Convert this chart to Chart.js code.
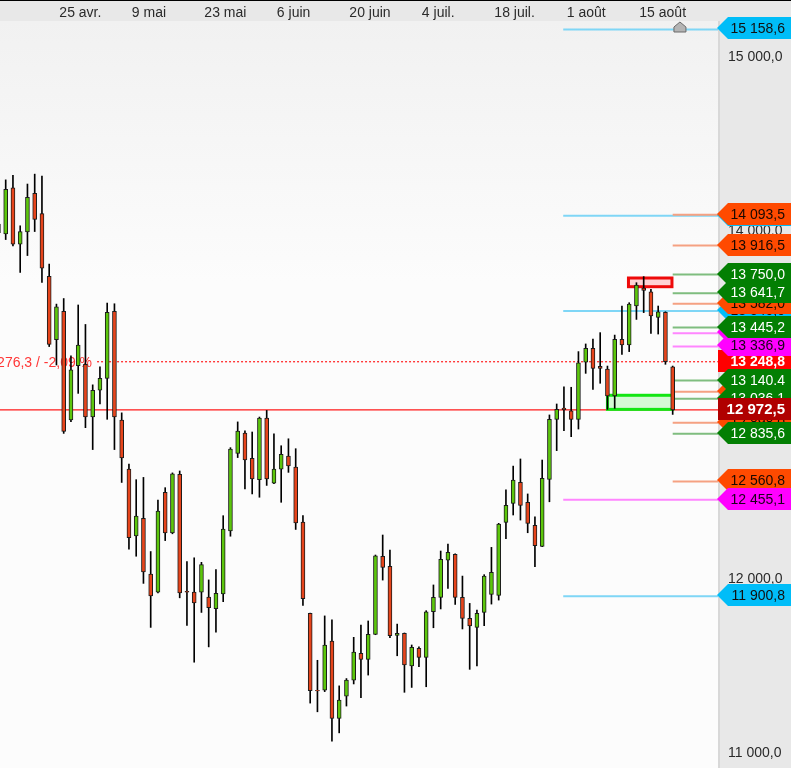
<!DOCTYPE html>
<html lang="fr">
<head>
<meta charset="utf-8">
<title>Chandeliers</title>
<script src="https://cdn.jsdelivr.net/npm/chart.js@4.4.1/dist/chart.umd.min.js"></script>
<style>
  html, body { margin: 0; padding: 0; background: #fbfbfb; }
  #wrap { width: 791px; height: 768px; }
</style>
</head>
<body>
<div id="wrap"><canvas id="chart" width="791" height="768"></canvas></div>
<script>
// séances (index 0 = bougie coupée à gauche)
const opens  = [13990,13984,14248,13925,13995,14217,14100,13740,13375,13538,12914,13226,13234,12931,13085,13153,13538,12914,12632,12248,
                12349,12028,11925,12498,12265,12602,11929,11925,11925,11896,11830,11914,12276,12722,12839,12694,12571,12925,12551,12632,
                12707,12643,12327,11803,11360,11362,11643,11199,11327,11419,11573,11538,11682,12130,12073,11676,11688,11500,11602,11550,
                11812,11895,12109,12142,11895,11774,11722,11808,11912,11906,12326,12435,12556,12441,12308,12188,12573,12918,12983,12967,
                12918,13247,13326,13222,13207,13052,13377,13345,13569,13672,13651,13504,13533,13220];
const highs  = [14060,14294,14320,14030,14270,14327,14316,13810,13580,13612,13283,13575,13463,13116,13219,13586,13582,12955,12661,12571,
                12584,12158,12454,12525,12610,12621,12100,12122,12096,11995,12054,12364,12755,12903,12852,12845,12931,12969,12835,12766,
                12806,12749,12364,11804,11533,11788,11766,11386,11428,11665,11736,11759,12138,12253,12167,11741,11690,11621,11611,11818,
                11966,12161,12201,12145,12017,11860,11822,12025,12182,12320,12512,12649,12690,12489,12358,12684,12943,13006,13105,13102,
                13307,13351,13379,13416,13224,13402,13569,13588,13703,13738,13665,13569,13536,13224];
const lows   = [13960,13951,13914,13762,13859,13997,13705,13336,13230,12837,12905,13067,12870,12744,13006,12918,12744,12555,12171,12131,
                11975,11722,11920,12221,12260,11892,11733,11522,11808,11610,11694,11870,12246,12698,12518,12489,12470,12538,12548,12441,
                12613,12285,11848,11287,11237,11353,11068,11116,11270,11397,11318,11448,11680,11994,11663,11559,11349,11377,11496,11381,
                11720,11828,11946,11854,11713,11481,11500,11732,11856,11879,12232,12368,12339,12266,12071,12186,12444,12738,12853,12818,
                12862,13182,13090,13125,12975,12981,13291,13307,13492,13531,13412,13408,13234,12946];
const closes = [14040,14239,13925,13997,14193,14067,13786,13349,13564,12848,13202,13344,12931,13085,13153,13533,12931,12696,12237,12362,
                12041,11903,12391,12265,12604,11920,11924,11863,12083,11835,11918,12287,12747,12850,12685,12575,12925,12575,12632,12716,
                12650,12322,11887,11358,11357,11621,11199,11305,11419,11580,11538,11682,12134,12067,11674,11688,11506,11607,11550,11812,
                11895,12113,12153,11895,11774,11730,11803,12017,12038,12316,12423,12569,12423,12320,12192,12579,12918,12975,12973,12918,
                13243,13326,13211,13211,13052,13377,13345,13580,13690,13659,13512,13536,13248.8,12972.5];

// axe des dates (position en séances) et axe des prix
const dateTickPos = [8.4, 18.4, 28.4, 38.4, 48.4, 58.4, 68.4, 78.4, 88.4];
const dateLabels  = ['25 avr.', '9 mai', '23 mai', '6 juin', '20 juin', '4 juil.', '18 juil.', '1 août', '15 août'];
const priceTicks  = [11000, 12000, 13000, 14000, 15000];

// niveaux tracés à droite
const cyanLevels    = [15158.6, 14088.0, 13540.0, 11900.8];
const orangeLevels  = [14093.5, 13916.5, 13582.0, 13076.0, 12898.0, 12560.8];
const magentaLevels = [13412.0, 13336.9, 12455.1];
const greenLevels   = [13036.1, 13750.0, 13641.7, 13445.2, 13140.4, 12835.6];
const greenTexts    = ['13 036,1', '13 750,0', '13 641,7', '13 445,2', '13 140.4', '12 835,6'];
const prevClose = 13248.8;
const lastClose = 12972.5;

// zones
const redZone   = { from: 86.9, to: 92.9, low: 13680, high: 13730 };
const greenZone = { from: 84,   to: 93,   low: 12975, high: 13056 };

const FONT = '"Liberation Sans", Arial, sans-serif';
Chart.defaults.font.family = FONT;

function fmt(v) {
  const parts = v.toFixed(1).split('.');
  return parts[0].replace(/\B(?=(\d{3})+(?!\d))/g, ' ') + ',' + parts[1];
}

const idx = opens.map((_, i) => i);
const wickData = idx.map(i => ({ x: i, y: [lows[i], highs[i]] }));
const bodyData = idx.map(i => ({ x: i, y: [opens[i], closes[i]] }));
const bodyColors = idx.map(i => closes[i] >= opens[i] ? '#5cc60c' : '#e6441b');

function drawTag(ctx, y, text, bg, fg, font, pointed) {
  const left = 718, right = 791, h = 22, cy = Math.round(y) - 1;
  ctx.beginPath();
  if (pointed) {
    ctx.moveTo(right, cy - h / 2);
    ctx.lineTo(left + 10, cy - h / 2);
    ctx.lineTo(left - 1, cy);
    ctx.lineTo(left + 10, cy + h / 2);
    ctx.lineTo(right, cy + h / 2);
  } else {
    ctx.rect(left, cy - h / 2, right - left, h);
  }
  ctx.closePath();
  ctx.fillStyle = bg;
  ctx.fill();
  ctx.fillStyle = fg;
  ctx.font = font;
  ctx.textAlign = 'right';
  ctx.textBaseline = 'middle';
  ctx.fillText(text, 785, cy + 1);
}

const decor = {
  id: 'decor',
  beforeDraw(chart) {
    const ctx = chart.ctx, a = chart.chartArea;
    ctx.save();
    const g = ctx.createLinearGradient(0, a.top, 0, a.top + 260);
    g.addColorStop(0, '#f1f1f1');
    g.addColorStop(1, '#fcfcfc');
    ctx.fillStyle = g;
    ctx.fillRect(0, a.top, a.right, chart.height - a.top);
    ctx.fillStyle = '#e8e8e8';
    ctx.fillRect(0, 0, chart.width, a.top);
    ctx.fillRect(a.right, 0, chart.width - a.right, chart.height);
    ctx.fillStyle = '#d8d8d8';
    ctx.fillRect(a.right, a.top, 2, chart.height - a.top);
    ctx.fillStyle = '#000';
    ctx.fillRect(0, 0, chart.width, 1);
    ctx.restore();
  },
  beforeDatasetsDraw(chart) {
    const ctx = chart.ctx, a = chart.chartArea;
    const xs = chart.scales.x, ys = chart.scales.y;
    ctx.save();
    ctx.beginPath();
    ctx.rect(a.left, a.top, a.right - a.left, a.bottom - a.top);
    ctx.clip();

    function hline(v, fromIdx, color, w, dash) {
      const y = ys.getPixelForValue(v);
      ctx.beginPath();
      ctx.setLineDash(dash || []);
      ctx.strokeStyle = color;
      ctx.lineWidth = w;
      ctx.moveTo(fromIdx === null ? a.left : xs.getPixelForValue(fromIdx), y);
      ctx.lineTo(a.right, y);
      ctx.stroke();
    }
    cyanLevels.forEach(v => hline(v, 77.9, '#7fd6f6', 2));
    orangeLevels.forEach(v => hline(v, 93, '#f5a182', 2));
    magentaLevels.forEach(v => hline(v, v < 12500 ? 77.9 : 93, '#ff86ff', 2));
    greenLevels.forEach(v => hline(v, 93, '#7fbd7f', 2));
    hline(prevClose, 13.6, '#ff1a1a', 1.2, [2, 2]);
    hline(lastClose, null, '#ff1a1a', 1.2);
    ctx.setLineDash([]);

    // variation du jour
    const diff = lastClose - prevClose;
    const pct = diff / prevClose * 100;
    const txt = diff.toFixed(1).replace('.', ',') + ' / ' + pct.toFixed(2).replace('.', ',') + ' %';
    ctx.font = '14px ' + FONT;
    ctx.fillStyle = '#ff3636';
    ctx.textAlign = 'right';
    ctx.textBaseline = 'middle';
    ctx.fillText(txt, xs.getPixelForValue(13.6) - 5, ys.getPixelForValue(prevClose) + 1);

    // zones
    function zone(z, fill, stroke) {
      const x0 = xs.getPixelForValue(z.from), x1 = xs.getPixelForValue(z.to);
      const y0 = ys.getPixelForValue(z.high), y1 = ys.getPixelForValue(z.low);
      ctx.fillStyle = fill;
      ctx.fillRect(x0, y0, x1 - x0, y1 - y0);
      ctx.strokeStyle = stroke;
      ctx.lineWidth = 3;
      ctx.strokeRect(x0, y0, x1 - x0, y1 - y0);
    }
    zone(redZone, '#ffd2d4', '#ee0a0a');
    zone(greenZone, '#d4f9d4', '#12e612');
    ctx.restore();
  },
  afterDraw(chart) {
    const ctx = chart.ctx;
    const xs = chart.scales.x, ys = chart.scales.y;
    ctx.save();
    const reg = '14px ' + FONT;
    cyanLevels.forEach(v => drawTag(ctx, ys.getPixelForValue(v), fmt(v), '#00bdf8', '#101010', reg, true));
    orangeLevels.forEach(v => drawTag(ctx, ys.getPixelForValue(v), fmt(v), '#ff4a00', '#1a0800', reg, true));
    drawTag(ctx, ys.getPixelForValue(prevClose), fmt(prevClose), '#ff0000', '#ffffff', 'bold 14px ' + FONT, false);
    magentaLevels.forEach(v => drawTag(ctx, ys.getPixelForValue(v), fmt(v), '#ff00ff', '#1a001a', reg, true));
    greenLevels.forEach((v, i) => drawTag(ctx, ys.getPixelForValue(v), greenTexts[i], '#037f03', '#ffffff', reg, true));
    drawTag(ctx, ys.getPixelForValue(lastClose), fmt(lastClose), '#b00000', '#ffffff', 'bold 15px ' + FONT, false);

    // repère gris en haut
    const mx = xs.getPixelForValue(94), my = 22;
    ctx.beginPath();
    ctx.moveTo(mx, my);
    ctx.lineTo(mx + 6, my + 5);
    ctx.lineTo(mx + 6, my + 10);
    ctx.lineTo(mx - 6, my + 10);
    ctx.lineTo(mx - 6, my + 5);
    ctx.closePath();
    ctx.fillStyle = '#b4b4b4';
    ctx.fill();
    ctx.strokeStyle = '#6a6a6a';
    ctx.lineWidth = 1;
    ctx.stroke();
    ctx.restore();
  }
};

new Chart(document.getElementById('chart'), {
  type: 'bar',
  data: {
    datasets: [
      { label: 'mèches', data: wickData, backgroundColor: '#000', barThickness: 1, grouped: false, order: 2 },
      { label: 'corps', data: bodyData, backgroundColor: bodyColors, borderColor: '#1c1c1c', borderWidth: 1,
        borderSkipped: false, barThickness: 4, grouped: false, order: 1 }
    ]
  },
  options: {
    responsive: false,
    animation: false,
    layout: { padding: 0 },
    plugins: { legend: { display: false }, tooltip: { enabled: false } },
    scales: {
      x: {
        type: 'linear',
        position: 'top',
        min: 0.214,
        max: 99.25,
        offset: false,
        grid: { display: false, drawTicks: false },
        border: { display: false },
        ticks: {
          align: 'start',
          padding: -1,
          maxRotation: 0,
          autoSkip: false,
          color: '#2a2a2a',
          font: { size: 14 },
          callback: v => dateLabels[dateTickPos.indexOf(v)] || ''
        },
        afterBuildTicks: s => { s.ticks = dateTickPos.map(v => ({ value: v })); },
        afterFit: s => { s.height = 21; s.paddingLeft = 0; s.paddingRight = 0; }
      },
      y: {
        type: 'linear',
        position: 'right',
        min: 10914,
        max: 15207,
        grid: { display: false, drawTicks: false },
        border: { display: false },
        ticks: {
          padding: 10,
          color: '#2a2a2a',
          font: { size: 14 },
          callback: v => fmt(v)
        },
        afterBuildTicks: s => { s.ticks = priceTicks.map(v => ({ value: v })); },
        afterFit: s => { s.width = 73; s.paddingTop = 0; s.paddingBottom = 0; }
      }
    }
  },
  plugins: [decor]
});
</script>
</body>
</html>
